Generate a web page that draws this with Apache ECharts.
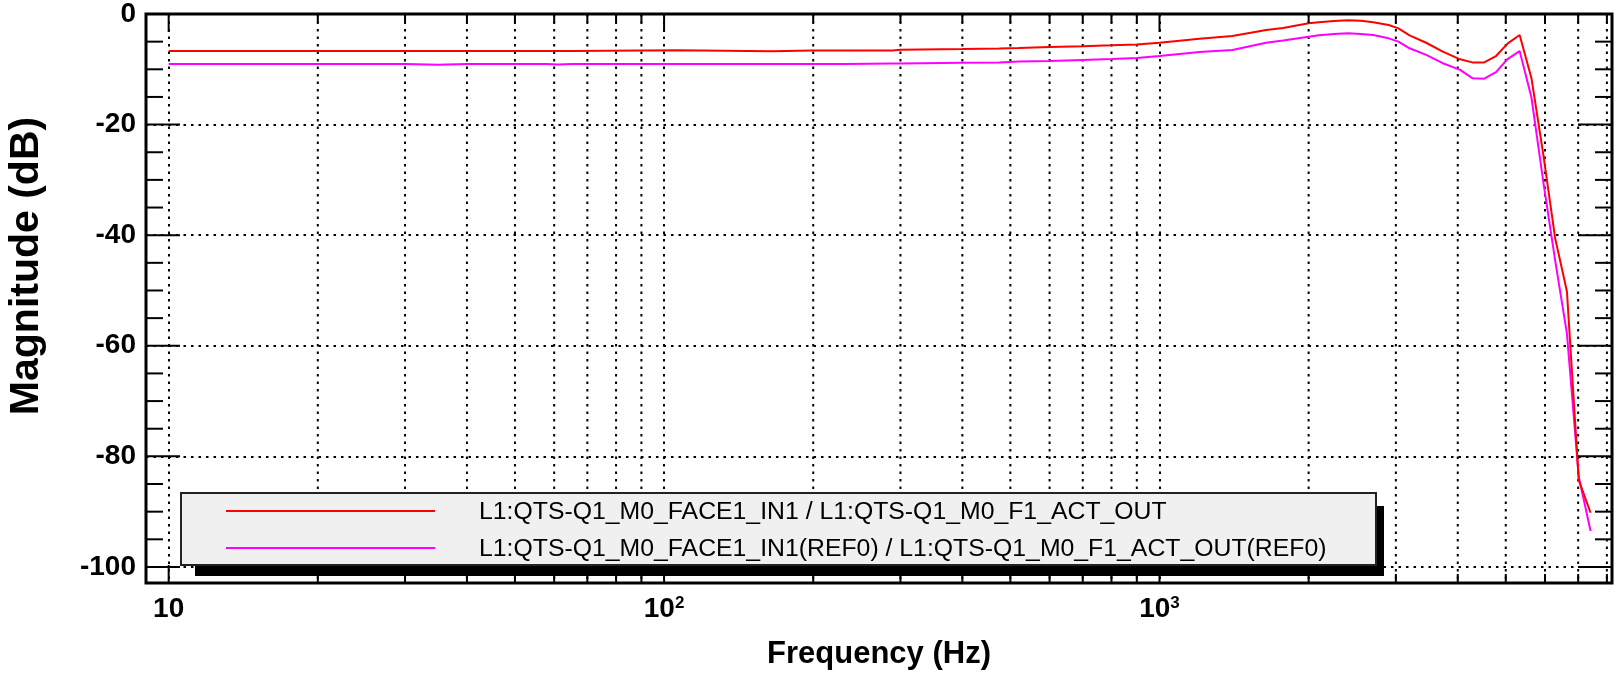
<!DOCTYPE html>
<html>
<head>
<meta charset="utf-8">
<script src="https://cdn.jsdelivr.net/npm/echarts@6/dist/echarts.min.js"></script>
<style>
  html, body { margin: 0; padding: 0; background: #fff; }
  #chart { width: 1615px; height: 676px; }
</style>
</head>
<body>
<div id="chart"></div>
<script>
const FONT = "'Liberation Sans', Arial, Helvetica, sans-serif";

// Transfer function magnitude, frequency in Hz, magnitude in dB
const frequencies = [10, 20, 30, 35, 40, 58, 61, 65, 106, 165, 199, 232, 289, 300, 400, 475, 520, 600, 700, 800, 900,
  1000, 1204, 1403, 1641, 1776, 2000, 2097, 2250, 2400, 2550, 2700, 2900, 3036, 3197, 3453, 3731, 4044, 4280, 4522,
  4778, 5048, 5333, 5634, 5952, 6289, 6644, 7019, 7416];
const magnitudeLive = [-6.69, -6.69, -6.69, -6.69, -6.69, -6.69, -6.69, -6.69, -6.55, -6.75, -6.58, -6.6, -6.58, -6.45, -6.35, -6.25, -6.15, -5.97, -5.85, -5.67, -5.5,
  -5.19, -4.46, -3.98, -2.9, -2.53, -1.69, -1.5, -1.25, -1.15, -1.2, -1.5, -2.0, -2.6, -3.86, -5.2, -6.8, -8.2, -8.75, -8.75,
  -7.6, -5.3, -3.8, -11.6, -25.4, -40.5, -50.2, -84.3, -90.2];
const magnitudeRef = [-9.05, -9.05, -9.05, -9.2, -9.05, -9.05, -9.15, -9.05, -9.05, -9.05, -9.05, -9.05, -8.95, -8.93, -8.8, -8.75, -8.6, -8.5, -8.3, -8.14, -7.96,
  -7.6, -6.88, -6.5, -5.19, -4.8, -4.1, -3.86, -3.6, -3.5, -3.6, -3.8, -4.4, -5.0, -6.2, -7.4, -8.9, -10.1, -11.6, -11.7,
  -10.5, -8.1, -6.7, -15.1, -30.3, -44.5, -57.8, -83.7, -93.5];

const seriesNames = [
  'L1:QTS-Q1_M0_FACE1_IN1 / L1:QTS-Q1_M0_F1_ACT_OUT',
  'L1:QTS-Q1_M0_FACE1_IN1(REF0) / L1:QTS-Q1_M0_F1_ACT_OUT(REF0)'
];
const seriesColors = ['#ff0000', '#ff00ff'];

const freqRange = [9, 8192];
const magRange = [-102.9, 0];
const xLabelValues = [10, 100, 1000];
const xLabelTexts = ['10', '10{sup|2}', '10{sup|3}'];
const xTitle = 'Frequency (Hz)';
const yTitle = 'Magnitude (dB)';

const toPairs = (xs, ys) => xs.map((x, i) => [x, ys[i]]);
const dotted = { color: '#000', width: 2, type: [2.5, 5] };

const chart = echarts.init(document.getElementById('chart'), null, { renderer: 'canvas' });

chart.setOption({
  animation: false,
  backgroundColor: '#fff',
  grid: {
    left: 146, top: 14, width: 1466, height: 569,
    show: true, borderColor: '#000', borderWidth: 3, backgroundColor: 'transparent'
  },
  xAxis: {
    type: 'log', logBase: 10, min: freqRange[0], max: freqRange[1],
    name: xTitle, nameLocation: 'middle', nameGap: 56,
    nameTextStyle: { fontFamily: FONT, fontWeight: 'bold', fontSize: 31, color: '#000' },
    axisLine: { show: false },
    axisTick: { show: false },
    axisLabel: {
      margin: 12, fontFamily: FONT, fontWeight: 'bold', fontSize: 28, color: '#000',
      showMinLabel: false, showMaxLabel: false,
      formatter: function (v) {
        for (let i = 0; i < xLabelValues.length; i++) {
          if (Math.abs(v - xLabelValues[i]) / xLabelValues[i] < 1e-6) return xLabelTexts[i];
        }
        return '';
      },
      rich: { sup: { fontFamily: FONT, fontWeight: 'bold', fontSize: 17, color: '#000', verticalAlign: 'top', padding: [0, 0, 12, 0] } }
    },
    splitLine: { show: true, showMinLine: false, showMaxLine: false, lineStyle: dotted }
  },
  yAxis: {
    type: 'value', min: magRange[0], max: magRange[1],
    axisLine: { show: false },
    axisTick: { show: false },
    axisLabel: { margin: 10, fontFamily: FONT, fontWeight: 'bold', fontSize: 28, color: '#000', showMinLabel: false },
    splitLine: { show: true, showMinLine: false, showMaxLine: false, lineStyle: dotted }
  },
  series: [
    {
      name: seriesNames[1], type: 'line', data: toPairs(frequencies, magnitudeRef),
      showSymbol: false, lineStyle: { color: seriesColors[1], width: 2 }, z: 3
    },
    {
      name: seriesNames[0], type: 'line', data: toPairs(frequencies, magnitudeLive),
      showSymbol: false, lineStyle: { color: seriesColors[0], width: 2 }, z: 4
    }
  ]
});

// Minor grid, frame ticks, axis title and legend box
const px = (f, v) => chart.convertToPixel({ gridIndex: 0 }, [f, v]);
const [xL, yT] = px(freqRange[0], magRange[1]);
const [xR, yB] = px(freqRange[1], magRange[0]);
const els = [];
const seg = (x1, y1, x2, y2, style, z) => els.push({
  type: 'line', silent: true, z: z,
  shape: { x1: x1, y1: y1, x2: x2, y2: y2 },
  style: Object.assign({ stroke: '#000', lineWidth: 2 }, style)
});

for (let d = 10; d <= 1000; d *= 10) {
  for (let k = 1; k <= 9; k++) {
    const f = k * d;
    if (f <= freqRange[0] || f >= freqRange[1]) continue;
    const x = px(f, 0)[0];
    const major = k === 1;
    if (!major) seg(x, yT, x, yB, { lineDash: [2.5, 5] }, 1);
    const len = major ? 18 : 9;
    seg(x, yT, x, yT + len, {}, 5);
    seg(x, yB, x, yB - len, {}, 5);
  }
}
for (let v = -100; v < 0; v += 5) {
  const y = px(10, v)[1];
  const len = v % 20 === 0 ? 34 : 17;
  seg(xL, y, xL + len, y, {}, 5);
  seg(xR, y, xR - len, y, {}, 5);
}

els.push({
  type: 'text', silent: true, z: 5, x: 27, y: 266, rotation: Math.PI / 2,
  style: { text: yTitle, fontFamily: FONT, fontWeight: 'bold', fontSize: 41, fill: '#000', align: 'center', verticalAlign: 'middle' }
});

// legend with a hard drop shadow
els.push({ type: 'rect', silent: true, z: 10, shape: { x: 195, y: 506, width: 1189, height: 70 }, style: { fill: '#000' } });
els.push({ type: 'rect', silent: true, z: 11, shape: { x: 181, y: 493, width: 1195, height: 72 }, style: { fill: '#f0f0f0', stroke: '#222', lineWidth: 2 } });
const legendRows = [511, 548];
seriesNames.forEach((name, i) => {
  seg(226, legendRows[i], 435, legendRows[i], { stroke: seriesColors[i] }, 12);
  els.push({
    type: 'text', silent: true, z: 12, x: 479, y: legendRows[i] + 1,
    style: { text: name, fontFamily: FONT, fontSize: 24.8, fill: '#000', align: 'left', verticalAlign: 'middle' }
  });
});

chart.setOption({ graphic: { elements: els } });
</script>
</body>
</html>
